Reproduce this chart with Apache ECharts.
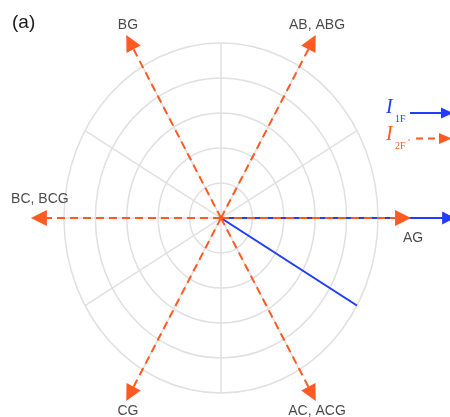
<!DOCTYPE html>
<html>
<head>
<meta charset="utf-8">
<script src="https://cdn.jsdelivr.net/npm/echarts@6/dist/echarts.min.js"></script>
<style>
  html, body { margin: 0; padding: 0; background: #fff; }
  #chart { width: 450px; height: 417px; }
</style>
</head>
<body>
<div id="chart"></div>
<script>
// Fault-type phasor diagram: fundamental (I1F) and second-harmonic (I2F) current directions.

// Fault types labelled at the tips of the I2F arrows
const faultNames = ['AG', 'AB, ABG', 'BG', 'BC, BCG', 'CG', 'AC, ACG'];
// I2F phasors (angle in degrees, magnitude relative to the outer ring)
const i2fAngles = [0, 60, 120, 180, 240, 300];
const i2fMags   = [1.16, 1.16, 1.16, 1.16, 1.16, 1.16];
// I1F phasors
const i1fAngles = [0, -30];
const i1fMags   = [1.45, 1.0];
const i1fArrow  = [true, false];
// Polar grid: ring radii and spoke angles
const ringRadii   = [0.2, 0.4, 0.6, 0.8, 1.0];
const spokeAngles = [0, 30, 60, 90, 120, 150, 180, 210, 240, 270, 300, 330];

const BLUE = '#1f3cff';
const ORANGE = '#ff5a22';
const GRID = '#e0e0e0';
const TEXT = '#1a1a1a';

const toXY = (mag, deg) => {
  const a = deg * Math.PI / 180;
  return [mag * Math.cos(a), mag * Math.sin(a)];
};

// label offsets (px) from each arrow head
const labelOffsets = [[10, 20], [5, -17], [-2, -17], [1, -19], [-2, 17], [5, 17]];

const chart = echarts.init(document.getElementById('chart'), null, { renderer: 'canvas' });

const option = {
  animation: false,
  backgroundColor: '#fff',
  // 157 px per unit horizontally, 175 px per unit vertically
  grid: { left: 1.2, top: 1, width: 448.2, height: 416, containLabel: false },
  xAxis: { type: 'value', min: -1.4, max: 1.455, show: false },
  yAxis: { type: 'value', min: -1.137, max: 1.24, show: false },
  graphic: [
    { type: 'text', left: 12, top: 13,
      style: { text: '(a)', font: '19px "Liberation Sans", Arial, sans-serif', fill: TEXT } },
    // I1F legend
    { type: 'text', x: 386, y: 98,
      style: { text: 'I', font: 'italic 20px "Liberation Serif", "Times New Roman", serif', fill: BLUE } },
    { type: 'text', x: 395, y: 114,
      style: { text: '1F', font: '10px "Liberation Serif", "Times New Roman", serif', fill: BLUE } },
    { type: 'line', shape: { x1: 410, y1: 113, x2: 442, y2: 113 },
      style: { stroke: BLUE, lineWidth: 2 } },
    { type: 'polygon', shape: { points: [[441, 107.5], [453, 113], [441, 118.5]] },
      style: { fill: BLUE } },
    // I2F legend
    { type: 'text', x: 386, y: 125,
      style: { text: 'I', font: 'italic 20px "Liberation Serif", "Times New Roman", serif', fill: ORANGE } },
    { type: 'text', x: 395, y: 141,
      style: { text: '2F', font: '10px "Liberation Serif", "Times New Roman", serif', fill: ORANGE } },
    { type: 'circle', shape: { cx: 409, cy: 140, r: 0.8 }, style: { fill: ORANGE } },
    { type: 'line', shape: { x1: 416, y1: 138.5, x2: 440, y2: 138.5 },
      style: { stroke: ORANGE, lineWidth: 2, lineDash: [7, 5] } },
    { type: 'polygon', shape: { points: [[439, 133], [452, 138.5], [439, 144]] },
      style: { fill: ORANGE } }
  ],
  series: [
    {
      // concentric rings, scaled per axis so they follow the plot's aspect
      type: 'custom',
      coordinateSystem: 'cartesian2d',
      clip: false,
      silent: true,
      data: ringRadii.map(r => [r, 0]),
      renderItem: (params, api) => {
        const r = api.value(0);
        const c = api.coord([0, 0]);
        const s = api.size([r, r]);
        return {
          type: 'ellipse',
          shape: { cx: c[0], cy: c[1], rx: s[0], ry: s[1] },
          style: { fill: 'none', stroke: GRID, lineWidth: 1.5 }
        };
      },
      z: 1
    },
    {
      // radial spokes
      type: 'lines',
      coordinateSystem: 'cartesian2d',
      clip: false,
      silent: true,
      symbol: ['none', 'none'],
      lineStyle: { color: GRID, width: 1.5, opacity: 1 },
      data: spokeAngles.map(a => ({ coords: [[0, 0], toXY(ringRadii[ringRadii.length - 1], a)] })),
      z: 2
    },
    {
      // I1F phasors
      type: 'lines',
      coordinateSystem: 'cartesian2d',
      clip: false,
      silent: true,
      lineStyle: { color: BLUE, width: 2, opacity: 1 },
      data: i1fAngles.map((a, i) => ({
        coords: [[0, 0], toXY(i1fMags[i], a)],
        symbol: ['none', i1fArrow[i] ? 'triangle' : 'none'],
        symbolSize: [11, 13]
      })),
      z: 3
    },
    {
      // I2F phasors
      type: 'lines',
      coordinateSystem: 'cartesian2d',
      clip: false,
      silent: true,
      symbol: ['none', 'triangle'],
      symbolSize: [15, 16],
      lineStyle: { color: ORANGE, width: 2, type: [8, 5], opacity: 1 },
      data: i2fAngles.map((a, i) => ({ coords: [[0, 0], toXY(i2fMags[i], a)] })),
      z: 4
    },
    {
      // fault-type labels
      type: 'scatter',
      clip: false,
      silent: true,
      symbolSize: 0,
      data: i2fAngles.map((a, i) => ({
        value: toXY(i2fMags[i], a),
        label: {
          show: true,
          position: 'inside',
          offset: labelOffsets[i],
          formatter: faultNames[i],
          fontFamily: '"Liberation Sans", Arial, sans-serif',
          fontSize: 14,
          color: TEXT
        }
      })),
      z: 5
    }
  ]
};

chart.setOption(option);
</script>
</body>
</html>
